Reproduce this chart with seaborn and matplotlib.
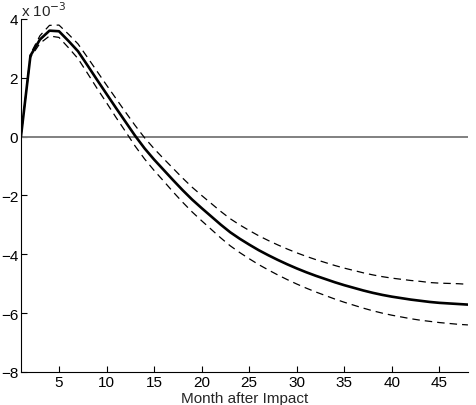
import numpy as np
import pandas as pd
import matplotlib
matplotlib.use("Agg")
import matplotlib.pyplot as plt
import seaborn as sns

# impulse response, in units of 1e-3
months = list(range(1, 49))
response = [0.00, 2.75, 3.30, 3.60, 3.58, 3.25, 2.90, 2.42, 1.93, 1.45,
            0.97, 0.50, 0.03, -0.40, -0.78, -1.13, -1.48, -1.82, -2.14, -2.43,
            -2.71, -2.99, -3.25, -3.47, -3.67, -3.86, -4.03, -4.19, -4.34, -4.48,
            -4.61, -4.73, -4.84, -4.95, -5.05, -5.14, -5.23, -5.31, -5.38, -5.44,
            -5.49, -5.54, -5.58, -5.62, -5.65, -5.67, -5.69, -5.71]
upper = [0.00, 2.81, 3.43, 3.78, 3.79, 3.48, 3.15, 2.69, 2.22, 1.75,
         1.29, 0.83, 0.38, -0.04, -0.41, -0.75, -1.08, -1.41, -1.72, -2.00,
         -2.27, -2.54, -2.79, -3.00, -3.19, -3.37, -3.53, -3.68, -3.82, -3.95,
         -4.07, -4.18, -4.28, -4.38, -4.47, -4.55, -4.63, -4.70, -4.76, -4.81,
         -4.85, -4.89, -4.92, -4.96, -4.98, -4.99, -5.00, -5.02]
lower = [0.00, 2.69, 3.17, 3.42, 3.37, 3.02, 2.65, 2.15, 1.64, 1.15,
         0.65, 0.17, -0.32, -0.76, -1.15, -1.51, -1.88, -2.23, -2.56, -2.86,
         -3.15, -3.44, -3.71, -3.94, -4.15, -4.35, -4.53, -4.70, -4.86, -5.01,
         -5.15, -5.28, -5.40, -5.52, -5.63, -5.73, -5.83, -5.92, -6.00, -6.07,
         -6.13, -6.19, -6.24, -6.28, -6.32, -6.35, -6.38, -6.40]
xticks = [5, 10, 15, 20, 25, 30, 35, 40, 45]
yticks = [-8, -6, -4, -2, 0, 2, 4]

df = pd.DataFrame({"month": months, "irf": response, "up": upper, "lo": lower})

sns.set_style("ticks")
plt.rcParams["font.family"] = ["Liberation Sans", "DejaVu Sans"]
plt.rcParams["font.size"] = 11

fig = plt.figure(figsize=(4.76, 4.06), dpi=100)
ax = fig.add_axes([0.044, 0.0813, 0.939, 0.8697])

ax.axhline(0, color="#808080", lw=1.4, zorder=1)
sns.lineplot(data=df, x="month", y="up", ax=ax, color="black", lw=0.9,
             linestyle=(0, (6, 4)), zorder=2)
sns.lineplot(data=df, x="month", y="lo", ax=ax, color="black", lw=0.9,
             linestyle=(0, (6, 4)), zorder=2)
sns.lineplot(data=df, x="month", y="irf", ax=ax, color="black", lw=1.9, zorder=3)

ax.set_xlim(1, 48)
ax.set_ylim(-8, 4)
ax.set_xticks(xticks)
ax.set_yticks(yticks)
ax.tick_params(direction="in", length=4, width=0.8, colors="black")
ax.tick_params(axis="y", pad=2)
ax.tick_params(axis="x", pad=2)
for side in ["top", "right"]:
    ax.spines[side].set_visible(False)
for side in ["left", "bottom"]:
    ax.spines[side].set_color("black")
    ax.spines[side].set_linewidth(0.8)

ax.set_ylabel("")
ax.set_xlabel("")
fig.text(0.5135, 0.0, "Month after Impact", ha="center", va="bottom", fontsize=11)
ax.text(0.0, 1.0, r"x 10$^{-3}$", transform=ax.transAxes, ha="left", va="bottom",
        fontsize=11)

fig.savefig("out.png", dpi=100)
